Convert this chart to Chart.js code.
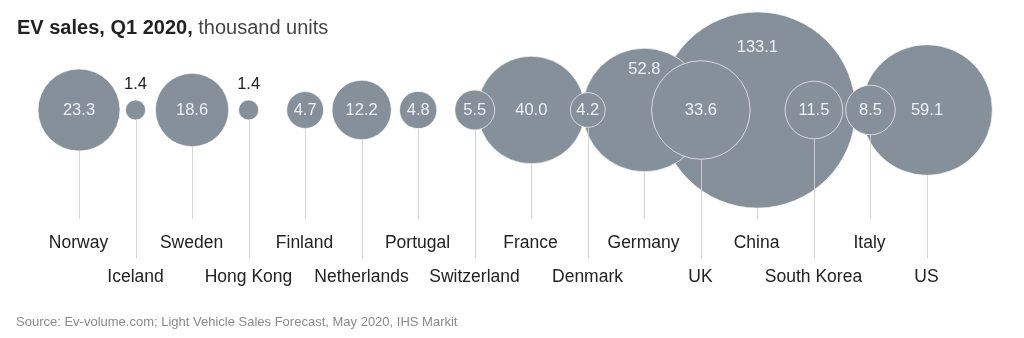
<!DOCTYPE html>
<html lang="en">
<head>
<meta charset="utf-8">
<title>EV sales, Q1 2020</title>
<script src="https://cdn.jsdelivr.net/npm/chart.js@4.4.0/dist/chart.umd.min.js"></script>
<style>
body{margin:0;background:#fff}
canvas{display:block}
</style>
</head>
<body>
<canvas id="chart" width="1024" height="338"></canvas>
<script>
/* data: thousand units, Q1 2020 */
const countries = ['Norway','Iceland','Sweden','Hong Kong','Finland','Netherlands','Portugal','Switzerland',
                   'France','Denmark','Germany','UK','China','South Korea','Italy','US'];
const sales     = [23.3, 1.4, 18.6, 1.4, 4.7, 12.2, 4.8, 5.5, 40.0, 4.2, 52.8, 33.6, 133.1, 11.5, 8.5, 59.1];

const FONT = '"Liberation Sans", Arial, sans-serif';
const K = 8.5;   // px per sqrt(thousand units)

// big bubbles first so the small ones sit on top
const points = countries.map((c,i)=>({x:i, y:0, r:K*Math.sqrt(sales[i]), name:c, v:sales[i]}))
  .sort((a,b)=>b.r-a.r);

// where the value text goes when the centre is covered
const valueShift = {'Germany':-41, 'China':-63};

const labels = {
  id:'labels',
  afterDatasetsDraw(chart){
    const {ctx} = chart;
    const xs = chart.scales.x, ys = chart.scales.y;
    const cy = ys.getPixelForValue(0);
    ctx.save();

    // stems + country names
    countries.forEach((c,i)=>{
      const x = Math.round(xs.getPixelForValue(i)) + .5;
      const r = K*Math.sqrt(sales[i]);
      const low = i % 2 === 1;
      ctx.strokeStyle = 'rgba(205,208,212,0.9)';
      ctx.lineWidth = 1;
      ctx.beginPath();
      ctx.moveTo(x, cy + r);
      ctx.lineTo(x, low ? 258 : 219);
      ctx.stroke();
      ctx.fillStyle = '#222';
      ctx.font = '17.5px ' + FONT;
      ctx.textAlign = 'center';
      ctx.textBaseline = 'middle';
      ctx.fillText(c, x - 1, low ? 277 : 243);
    });

    // values
    countries.forEach((c,i)=>{
      const x = xs.getPixelForValue(i);
      const r = K*Math.sqrt(sales[i]);
      ctx.font = '16.5px ' + FONT;
      ctx.textAlign = 'center';
      ctx.textBaseline = 'middle';
      if (r < 14) {
        ctx.fillStyle = '#222';
        ctx.fillText(sales[i].toFixed(1), x, cy - r - 15);
      } else {
        ctx.fillStyle = '#eceff2';
        ctx.fillText(sales[i].toFixed(1), x, cy + (valueShift[c] || 0));
      }
    });

    // title
    ctx.textAlign = 'left';
    ctx.textBaseline = 'alphabetic';
    ctx.font = 'bold 20px ' + FONT;
    ctx.fillStyle = '#222';
    const t1 = 'EV sales, Q1 2020,';
    ctx.fillText(t1, 17, 34);
    const w = ctx.measureText(t1 + ' ').width;
    ctx.font = '20px ' + FONT;
    ctx.fillStyle = '#444';
    ctx.fillText('thousand units', 17 + w, 34);

    // source
    ctx.font = '13px ' + FONT;
    ctx.fillStyle = '#8a8a8a';
    ctx.fillText('Source: Ev-volume.com; Light Vehicle Sales Forecast, May 2020, IHS Markit', 16, 326);
    ctx.restore();
  }
};

new Chart(document.getElementById('chart'), {
  type:'bubble',
  data:{
    datasets:[{
      data:points,
      backgroundColor:'#86909a',
      borderColor:'rgba(255,255,255,0.65)',
      borderWidth:1,
      hoverRadius:0,
      clip:false
    }]
  },
  options:{
    responsive:false,
    animation:false,
    events:[],
    layout:{autoPadding:false, padding:{left:79, right:97, top:0, bottom:118}},
    scales:{
      x:{type:'linear', display:false, min:0, max:15},
      y:{type:'linear', display:false, min:-1, max:1}
    },
    plugins:{legend:{display:false}, tooltip:{enabled:false}}
  },
  plugins:[labels]
});
</script>
</body>
</html>
